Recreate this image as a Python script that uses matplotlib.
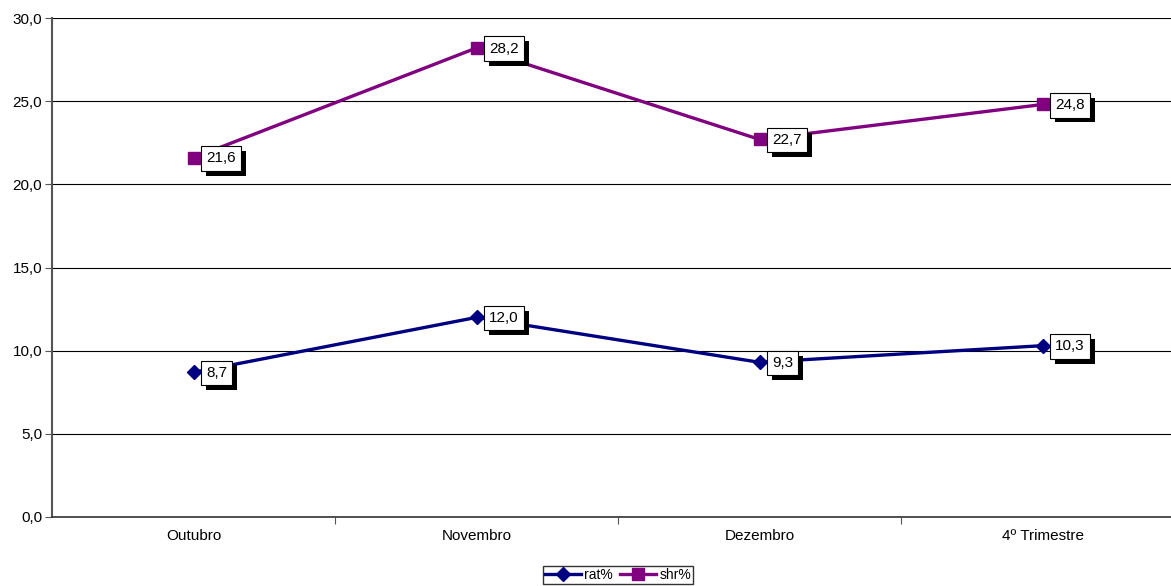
import matplotlib.pyplot as plt
from matplotlib.ticker import FuncFormatter
from matplotlib import patheffects as pe

# --- dados ---
meses = ["Outubro", "Novembro", "Dezembro", "4º Trimestre"]
rat = [8.7, 12.0, 9.3, 10.3]
shr = [21.6, 28.2, 22.7, 24.8]

plt.rcParams["font.family"] = ["Liberation Sans", "DejaVu Sans"]

fig = plt.figure(figsize=(11.71, 5.86), dpi=100)
ax = fig.add_axes([52 / 1171, 1 - 517 / 586, 1132 / 1171, 499 / 586])

x = list(range(len(meses)))
l1, = ax.plot(x, rat, color="#000080", lw=2.4, marker="D", ms=7, label="rat%", zorder=3)
l2, = ax.plot(x, shr, color="#800080", lw=2.4, marker="s", ms=8.5, label="shr%", zorder=3)


def rotulo(xi, yi):
    txt = f"{yi:.1f}".replace(".", ",")
    t = ax.annotate(txt, (xi, yi), xytext=(9, -0.5), textcoords="offset points",
                    ha="left", va="center", fontsize=11, color="black", zorder=5,
                    bbox=dict(boxstyle="square,pad=0.35", fc="white", ec="black", lw=0.8))
    # sombra preta da caixa
    t.get_bbox_patch().set_path_effects([
        pe.SimplePatchShadow(offset=(3.5, -3.5), shadow_rgbFace="black", alpha=1),
        pe.Normal()])


for xi, yi in zip(x, rat):
    rotulo(xi, yi)
for xi, yi in zip(x, shr):
    rotulo(xi, yi)

ax.set_xlim(-0.5, 3.5)
ax.set_ylim(0, 30)
ax.set_yticks([0, 5, 10, 15, 20, 25, 30])
ax.yaxis.set_major_formatter(FuncFormatter(lambda v, p: f"{v:.1f}".replace(".", ",")))
ax.set_xticks([0.5, 1.5, 2.5], minor=False)
ax.set_xticklabels([])
ax.set_xticks(x, minor=True)
ax.set_xticklabels(meses, minor=True)
ax.tick_params(axis="x", which="minor", length=0, pad=9, labelsize=11)
ax.tick_params(axis="x", which="major", length=5, color="#555555")
ax.tick_params(axis="y", length=5, labelsize=11, color="#555555", pad=2)

ax.grid(axis="y", color="black", lw=0.8)
ax.set_axisbelow(True)
for s in ["top", "right"]:
    ax.spines[s].set_visible(False)
ax.spines["left"].set_color("#555555")
ax.spines["left"].set_linewidth(1.5)
ax.spines["bottom"].set_color("#333333")
ax.spines["bottom"].set_linewidth(1.2)

fig.legend(handles=[l1, l2], loc="center", bbox_to_anchor=(618 / 1171, 1 - 575 / 586),
           ncol=2, frameon=True, fancybox=False, edgecolor="black", fontsize=10,
           handlelength=2.6, handletextpad=0.25, columnspacing=0.5, borderpad=0.15,
           borderaxespad=0)

fig.savefig("out.png", dpi=100)
